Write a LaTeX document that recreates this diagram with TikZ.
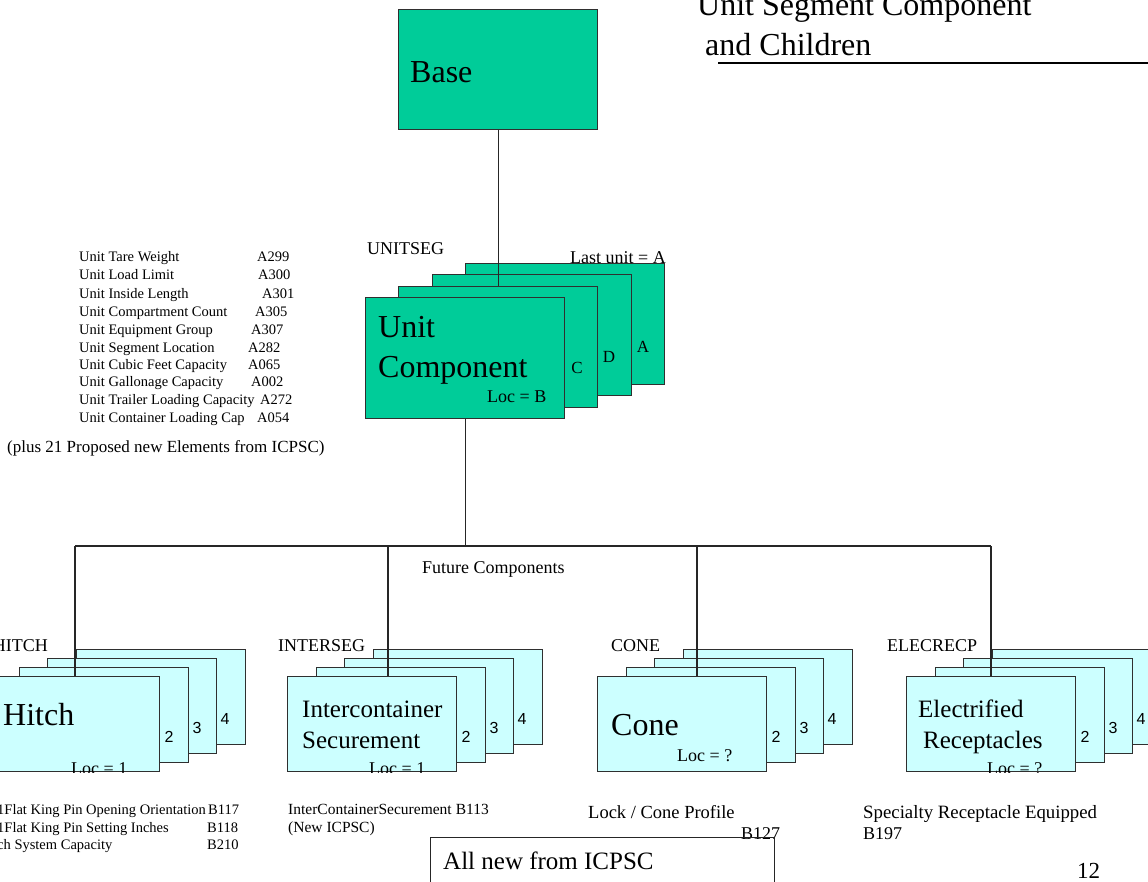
\documentclass[tikz,border=0pt]{standalone}
\usepackage{fontspec}
\setmainfont{Liberation Serif}
\newfontfamily\arialf{Liberation Sans}
\definecolor{tealone}{HTML}{00CC99}
\definecolor{cyanone}{HTML}{CCFFFF}
\definecolor{edgec}{HTML}{2F2F2F}
\newcommand{\fs}[1]{\fontsize{#1}{#1}\selectfont}
\newcommand{\cardstack}[2]{%
  \node[cyancard] (#14) at (#2+86,649) {};
  \node[cyancard] (#13) at (#2+57,658) {};
  \node[cyancard] (#12) at (#2+29,667) {};
  \node[cyancard] (#1F) at (#2,676) {};
  \node[numlbl] (#1n2) at (#2+179,737) {2};
  \node[numlbl] (#1n3) at (#2+207,728) {3};
  \node[numlbl] (#1n4) at (#2+235,719) {4};
}
\begin{document}
\begin{tikzpicture}[x=1pt,y=-1pt,
  tealcard/.style={draw=edgec, line width=1.2pt, fill=tealone, rectangle,
    minimum width=199pt, minimum height=121pt, anchor=north west, inner sep=0pt},
  cyancard/.style={draw=edgec, line width=1.2pt, fill=cyanone, rectangle,
    minimum width=169pt, minimum height=95pt, anchor=north west, inner sep=0pt},
  txt/.style={inner sep=0pt, anchor=base west},
  small/.style={txt, font=\fs{14.5}},
  mid/.style={txt, font=\fs{18}},
  numlbl/.style={inner sep=0pt, anchor=center, font=\arialf\fs{16}},
  conn/.style={draw=black!85, line width=1.1pt}]
\useasboundingbox (0,0) rectangle (1148,881);
\fill[white] (0,0) rectangle (1148,881);

% title
\node[txt, font=\fs{32}] (t1) at (697,15) {Unit Segment Component};
\node[txt, font=\fs{32}] (t2) at (705,55) {and Children};
\draw[line width=1.1pt] (718,63) -- (1148,63);

% base
\node[tealcard, minimum height=120pt] (base) at (398,9) {};
\node[txt, font=\fs{32}] (basel) at (410,82) {Base};

% unit stack
\node[mid] (useg) at (367,254) {UNITSEG};
\node[tealcard] (uA) at (465,263) {};
\node[mid] (last) at (570,263) {Last unit = A};
\node[tealcard] (uD) at (432,274) {};
\coordinate (uCnw) at (398,286);
\draw[conn] (base.south) -- (base.south |- uCnw);
\node[tealcard] (uC) at (uCnw) {};
\node[tealcard] (uF) at (365,297) {};
\node[inner sep=0pt, font=\fs{17}] (lA) at (643,347) {A};
\node[inner sep=0pt, font=\fs{17}] (lD) at (609,357) {D};
\node[inner sep=0pt, font=\fs{17}] (lC) at (577,368) {C};
\node[txt, font=\fs{32}] (uT1) at (378,337) {Unit};
\node[txt, font=\fs{32}] (uT2) at (378,377) {Component};
\node[mid] (uloc) at (487,402) {Loc = B};

% left list
\node[small] (l1) at (79,261) {Unit Tare Weight};
\node[small] (l2) at (79,279) {Unit Load Limit};
\node[small] (l3) at (79,298) {Unit Inside Length};
\node[small] (l4) at (79,316) {Unit Compartment Count};
\node[small] (l5) at (79,334) {Unit Equipment Group};
\node[small] (l6) at (79,352) {Unit Segment Location};
\node[small] (l7) at (79,369) {Unit Cubic Feet Capacity};
\node[small] (l8) at (79,386) {Unit Gallonage Capacity};
\node[small] (l9) at (79,404) {Unit Trailer Loading Capacity};
\node[small] (l10) at (79,422) {Unit Container Loading Cap};
\node[small] (c1) at (257,261) {A299};
\node[small] (c2) at (258,279) {A300};
\node[small] (c3) at (262,298) {A301};
\node[small] (c4) at (255,316) {A305};
\node[small] (c5) at (251,334) {A307};
\node[small] (c6) at (248,352) {A282};
\node[small] (c7) at (248,369) {A065};
\node[small] (c8) at (251,386) {A002};
\node[small] (c9) at (260,404) {A272};
\node[small] (c10) at (257,422) {A054};
\node[txt, font=\fs{17}] (plus) at (7,452) {(plus 21 Proposed new Elements from ICPSC)};

% bus
\coordinate (b1) at (75,546);
\coordinate (b2) at (388,546);
\coordinate (b3) at (697,546);
\coordinate (b4) at (991,546);
\draw[conn] (uF.south) -- (uF.south |- b1);
\draw[conn] (b1) -- (b4);
\node[txt, font=\fs{18}] (future) at (422,573) {Future Components};

% lower stacks
\cardstack{h}{-10}
\cardstack{i}{287}
\cardstack{c}{597}
\cardstack{e}{906}
\draw[conn] (b1) -- (b1 |- hF.north);
\draw[conn] (b2) -- (b2 |- iF.north);
\draw[conn] (b3) -- (b3 |- cF.north);
\draw[conn] (b4) -- (b4 |- eF.north);

\node[mid, anchor=base east] (hl) at (48,651) {HITCH};
\node[mid] (il) at (278,651) {INTERSEG};
\node[mid] (cl) at (611,651) {CONE};
\node[mid] (el) at (887,651) {ELECRECP};

\node[txt, font=\fs{32}] (hT) at (3,725) {Hitch};
\node[txt, font=\fs{25}] (iT1) at (302,717) {Intercontainer};
\node[txt, font=\fs{25}] (iT2) at (302,748) {Securement};
\node[txt, font=\fs{32}] (cT) at (611,735) {Cone};
\node[txt, font=\fs{25}] (eT1) at (918,717) {Electrified};
\node[txt, font=\fs{25}] (eT2) at (923,748) {Receptacles};
\node[mid] (cloc) at (677,761) {Loc = ?};
\begin{scope}
  \clip (hF.south west) rectangle (hF.north east);
  \node[mid] (hloc) at (71,774) {Loc = 1};
\end{scope}
\begin{scope}
  \clip (iF.south west) rectangle (iF.north east);
  \node[mid] (iloc) at (369,774) {Loc = 1};
\end{scope}
\begin{scope}
  \clip (eF.south west) rectangle (eF.north east);
  \node[mid] (eloc) at (987,774) {Loc = ?};
\end{scope}

% bottom texts
\node[small] (hb1) at (-3,814) {1Flat King Pin Opening Orientation};
\node[small] (hb2) at (-3,832) {1Flat King Pin Setting Inches};
\node[small] (hb3) at (-3,849) {ch System Capacity};
\node[small] (hc1) at (208,814) {B117};
\node[small] (hc2) at (207,832) {B118};
\node[small] (hc3) at (207,849) {B210};
\node[txt, font=\fs{15.5}] (ib1) at (288,814) {InterContainerSecurement\hspace{4pt}B113};
\node[txt, font=\fs{15.5}] (ib2) at (288,832) {(New ICPSC)};
\node[txt, font=\fs{18.5}] (cb1) at (588,818) {Lock / Cone Profile};
\node[mid] (cb2) at (741,839) {B127};
\node[txt, font=\fs{18.8}] (eb1) at (863,818) {Specialty Receptacle Equipped};
\node[mid] (eb2) at (863,839) {B197};

\node[draw=black!85, line width=1.1pt, rectangle, anchor=north west,
  minimum width=344pt, minimum height=70pt, inner sep=0pt] (newbox) at (430,837) {};
\node[txt, font=\fs{25}] (newtxt) at (443,869) {All new from ICPSC};
\node[txt, font=\fs{23}] (page) at (1077,878) {12};
\end{tikzpicture}
\end{document}
